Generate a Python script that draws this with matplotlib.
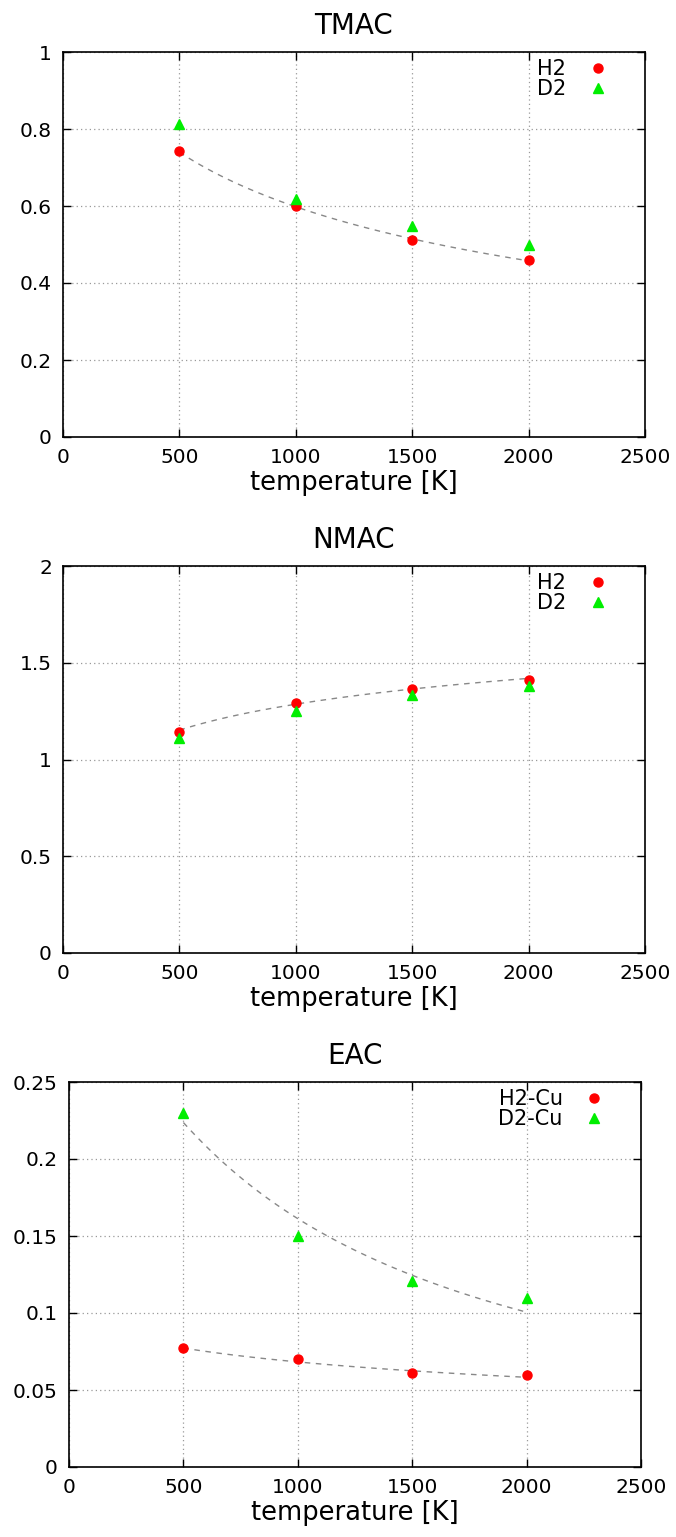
import numpy as np
import matplotlib
matplotlib.use('Agg')
import matplotlib.pyplot as plt

plt.rcParams['font.family'] = ['DejaVu Sans']

temperature = [500, 1000, 1500, 2000]

tmac_h2 = [0.742, 0.601, 0.511, 0.459]
tmac_d2 = [0.812, 0.617, 0.547, 0.499]
tmac_fit = [0.740, 0.597, 0.516, 0.457]

nmac_h2 = [1.14, 1.29, 1.365, 1.41]
nmac_d2 = [1.11, 1.25, 1.335, 1.38]
nmac_fit = [1.152, 1.284, 1.367, 1.418]

eac_h2 = [0.077, 0.070, 0.061, 0.060]
eac_d2 = [0.230, 0.150, 0.121, 0.110]
eac_h2_fit = [0.0772, 0.0685, 0.0621, 0.0584]
eac_d2_fit = [0.224, 0.160, 0.126, 0.100]

W, H = 676, 1537
fig = plt.figure(figsize=(W / 100, H / 100), dpi=100)


def smooth_fit(x, y):
    # smooth curve through the fitted values (quadratic in log-log space)
    c = np.polyfit(np.log(x), np.log(y), 2)
    xs = np.linspace(min(x), max(x), 100)
    return xs, np.exp(np.polyval(c, np.log(xs)))


def panel(box, title, h2, d2, fits, ylim, yticks, ylabels, labels):
    l, t, r, b = box
    ax = fig.add_axes([l / W, 1 - b / H, (r - l) / W, (b - t) / H])
    for y in fits:
        xs, ys = smooth_fit(temperature, y)
        ax.plot(xs, ys, ls=(0, (4, 4)), color='#888888', lw=1.0, zorder=2)
    ax.plot(temperature, h2, 'o', color='#ff0000', ms=6.5, mec='#ff0000',
            label=labels[0], zorder=3)
    ax.plot(temperature, d2, '^', color='#00ee00', ms=7, mec='#00ee00',
            label=labels[1], zorder=3)
    ax.set_xlim(0, 2500)
    ax.set_ylim(*ylim)
    ax.set_xticks([0, 500, 1000, 1500, 2000, 2500])
    ax.set_yticks(yticks)
    ax.set_yticklabels(ylabels)
    ax.grid(True, color='#999999', ls=(0, (1, 2.5)), lw=0.9)
    ax.tick_params(direction='in', length=6, width=1.0, right=True, top=True,
                   labelsize=14.5, pad=8)
    for s in ax.spines.values():
        s.set_linewidth(1.2)
    ax.set_title(title, fontsize=20, pad=13)
    ax.set_xlabel('temperature [K]', fontsize=18.5, labelpad=2)
    ax.legend(loc='upper right', frameon=False, markerfirst=False,
              fontsize=15, handlelength=1.0, handletextpad=1.0,
              labelspacing=0.0, borderaxespad=0.4, bbox_to_anchor=(0.965, 1.025))
    return ax


panel((63, 52, 645, 437), 'TMAC', tmac_h2, tmac_d2, [tmac_fit],
      (0, 1), [0, 0.2, 0.4, 0.6, 0.8, 1], ['0', '0.2', '0.4', '0.6', '0.8', '1'],
      ['H2', 'D2'])
panel((63, 566, 645, 953), 'NMAC', nmac_h2, nmac_d2, [nmac_fit],
      (0, 2), [0, 0.5, 1, 1.5, 2], ['0', '0.5', '1', '1.5', '2'],
      ['H2', 'D2'])
panel((69, 1082, 641, 1467), 'EAC', eac_h2, eac_d2, [eac_h2_fit, eac_d2_fit],
      (0, 0.25), [0, 0.05, 0.1, 0.15, 0.2, 0.25],
      ['0', '0.05', '0.1', '0.15', '0.2', '0.25'],
      ['H2-Cu', 'D2-Cu'])

fig.savefig('out.png', dpi=100)
